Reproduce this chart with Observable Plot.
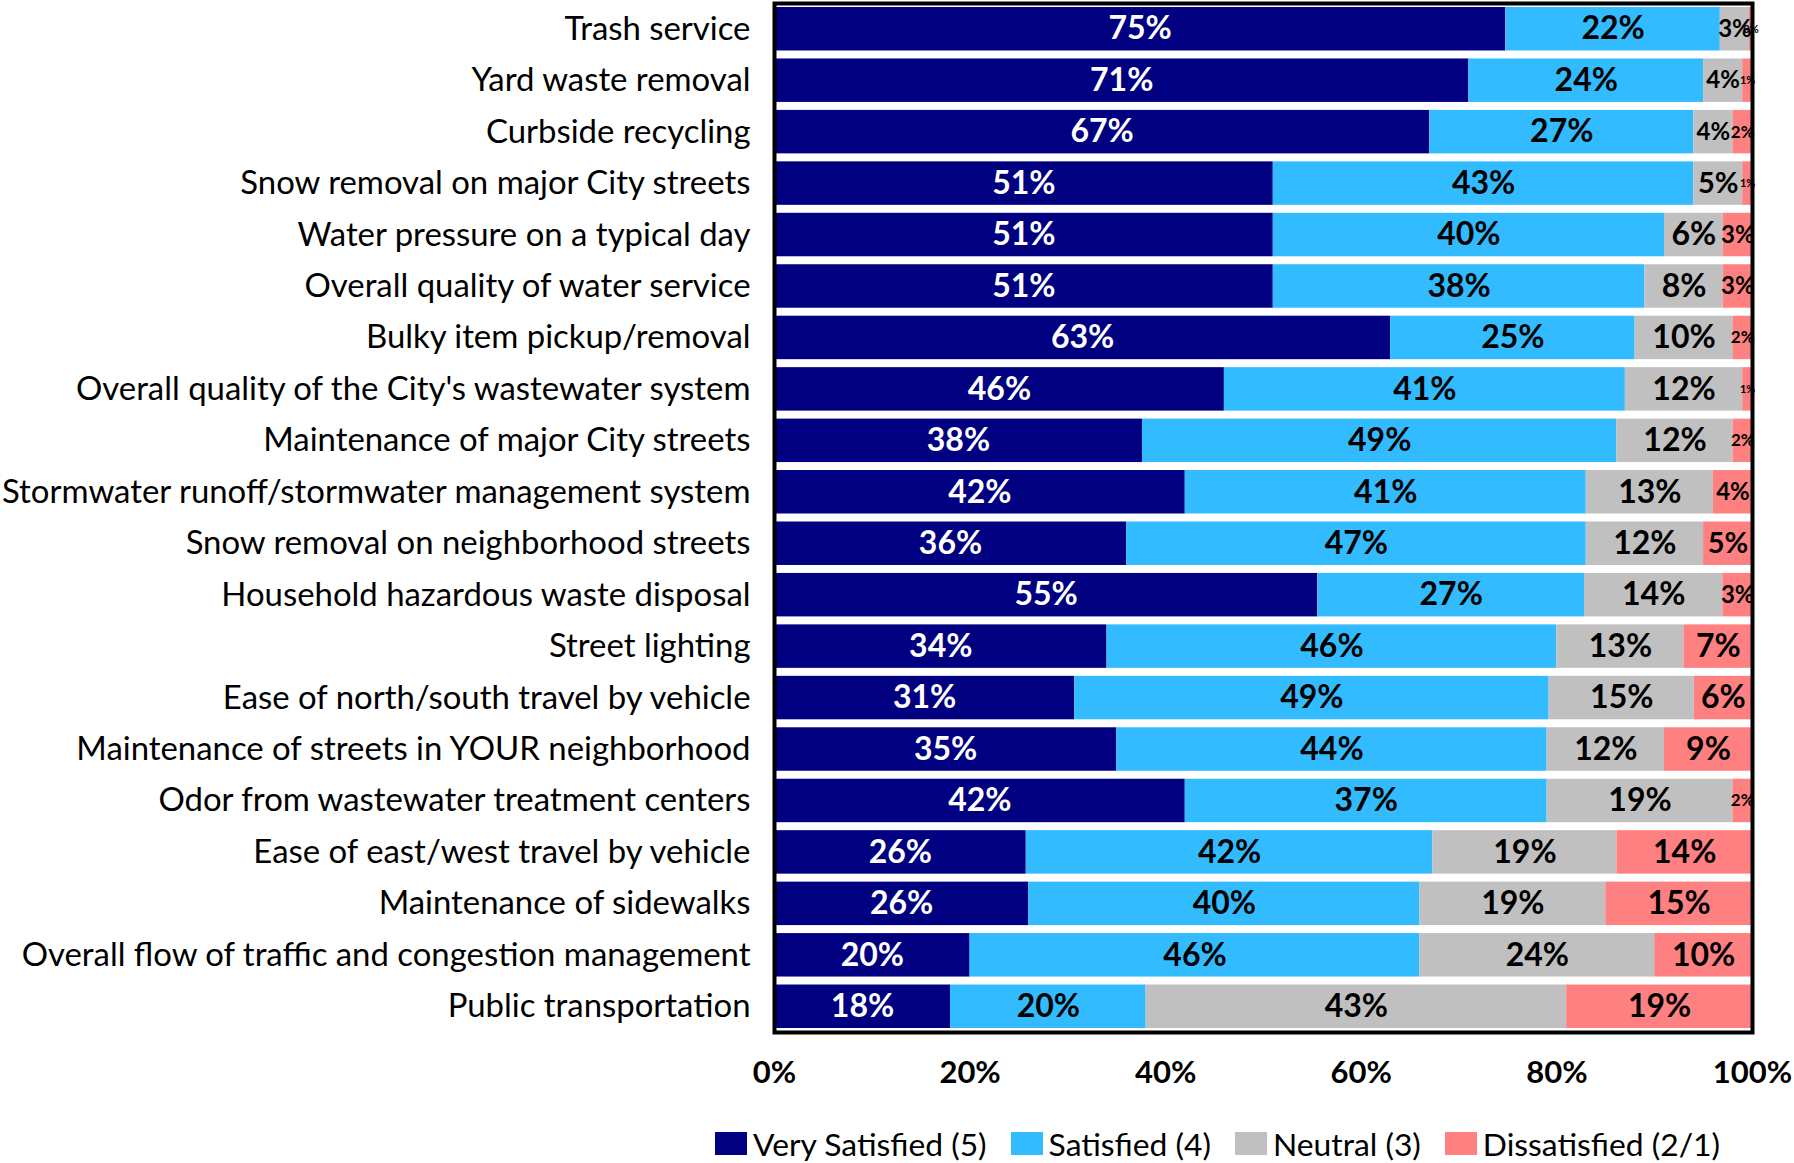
<!DOCTYPE html>
<html>
<head>
<meta charset="utf-8">
<script src="https://cdn.jsdelivr.net/npm/d3@7"></script>
<script src="https://cdn.jsdelivr.net/npm/@observablehq/plot@0.6"></script>
<style>
  html, body { margin: 0; padding: 0; background: #fff; }
  #chart { width: 1794px; }
  .legend { display: flex; align-items: center; padding-left: 715px; height: 63px; margin-top: 12px;
            font-family: Lato, "Open Sans", sans-serif; font-size: 31.8px; color: #000; }
  .legend .item { display: flex; align-items: center; margin-right: 24px; }
  .legend .sw { width: 32px; height: 23px; margin-right: 6px; }
</style>
</head>
<body>
<div id="chart"></div>
<script>
const categories = [
  "Trash service",
  "Yard waste removal",
  "Curbside recycling",
  "Snow removal on major City streets",
  "Water pressure on a typical day",
  "Overall quality of water service",
  "Bulky item pickup/removal",
  "Overall quality of the City's wastewater system",
  "Maintenance of major City streets",
  "Stormwater runoff/stormwater management system",
  "Snow removal on neighborhood streets",
  "Household hazardous waste disposal",
  "Street lighting",
  "Ease of north/south travel by vehicle",
  "Maintenance of streets in YOUR neighborhood",
  "Odor from wastewater treatment centers",
  "Ease of east/west travel by vehicle",
  "Maintenance of sidewalks",
  "Overall flow of traffic and congestion management",
  "Public transportation"
];
const verySatisfied = [75, 71, 67, 51, 51, 51, 63, 46, 38, 42, 36, 55, 34, 31, 35, 42, 26, 26, 20, 18];
const satisfied     = [22, 24, 27, 43, 40, 38, 25, 41, 49, 41, 47, 27, 46, 49, 44, 37, 42, 40, 46, 20];
const neutral       = [3, 4, 4, 5, 6, 8, 10, 12, 12, 13, 12, 14, 13, 15, 12, 19, 19, 19, 24, 43];
const dissatisfied  = [0.3, 1, 2, 1, 3, 3, 2, 1, 2, 4, 5, 3, 7, 6, 9, 2, 14, 15, 10, 19];
const levels = ["Very Satisfied (5)", "Satisfied (4)", "Neutral (3)", "Dissatisfied (2/1)"];
const colors = ["#000080", "#33bbff", "#c0c0c0", "#ff8080"];
const xTicks = [0, 0.2, 0.4, 0.6, 0.8, 1];

const series = [verySatisfied, satisfied, neutral, dissatisfied];
const rows = [];
categories.forEach((c, i) => {
  series.forEach((arr, j) => rows.push({category: c, level: levels[j], value: arr[i]}));
});

const pct = v => Math.round(v) + "%";
const labelSize = v => v >= 6 ? 32 : v >= 5 ? 29 : v >= 3 ? 24 : v >= 2 ? 17 : 11;

const stackOpts = {x: "value", y: "category", z: "level", offset: "normalize"};

const marks = [
  Plot.barX(rows, Plot.stackX({...stackOpts, fill: "level"})),
  Plot.text(rows, Plot.stackX({...stackOpts,
    text: d => d.level === levels[0] ? pct(d.value) : null,
    fill: "white", fontWeight: "bold", fontSize: d => labelSize(d.value)})),
  Plot.text(rows, Plot.stackX({...stackOpts,
    text: d => d.level !== levels[0] ? pct(d.value) : null,
    fill: "black", fontWeight: "bold", fontSize: d => labelSize(d.value)})),
  Plot.frame({stroke: "black", strokeWidth: 4}),
  Plot.axisX({ticks: xTicks, tickFormat: d => Math.round(d * 100) + "%", tickSize: 0, tickPadding: 28,
    fontSize: 31, fontWeight: "bold", fill: "black", label: null}),
  Plot.axisY({tickSize: 0, tickPadding: 24, fontSize: 32.9, fill: "black", label: null})
];

const chart = Plot.plot({
  width: 1794,
  height: 1100,
  marginLeft: 774,
  marginRight: 42,
  marginTop: 3,
  marginBottom: 68,
  style: {fontFamily: "Lato, 'Open Sans', sans-serif", background: "#fff", color: "#000"},
  x: {domain: [0, 1], axis: null},
  y: {domain: categories, paddingInner: 0.155, paddingOuter: 0.078, round: false, axis: null},
  color: {domain: levels, range: colors},
  marks
});
document.getElementById("chart").appendChild(chart);

const legend = document.createElement("div");
legend.className = "legend";
levels.forEach((l, i) => {
  const item = document.createElement("div");
  item.className = "item";
  const sw = document.createElement("span");
  sw.className = "sw";
  sw.style.background = colors[i];
  const t = document.createElement("span");
  t.textContent = l;
  item.appendChild(sw); item.appendChild(t);
  legend.appendChild(item);
});
document.getElementById("chart").appendChild(legend);
</script>
</body>
</html>
